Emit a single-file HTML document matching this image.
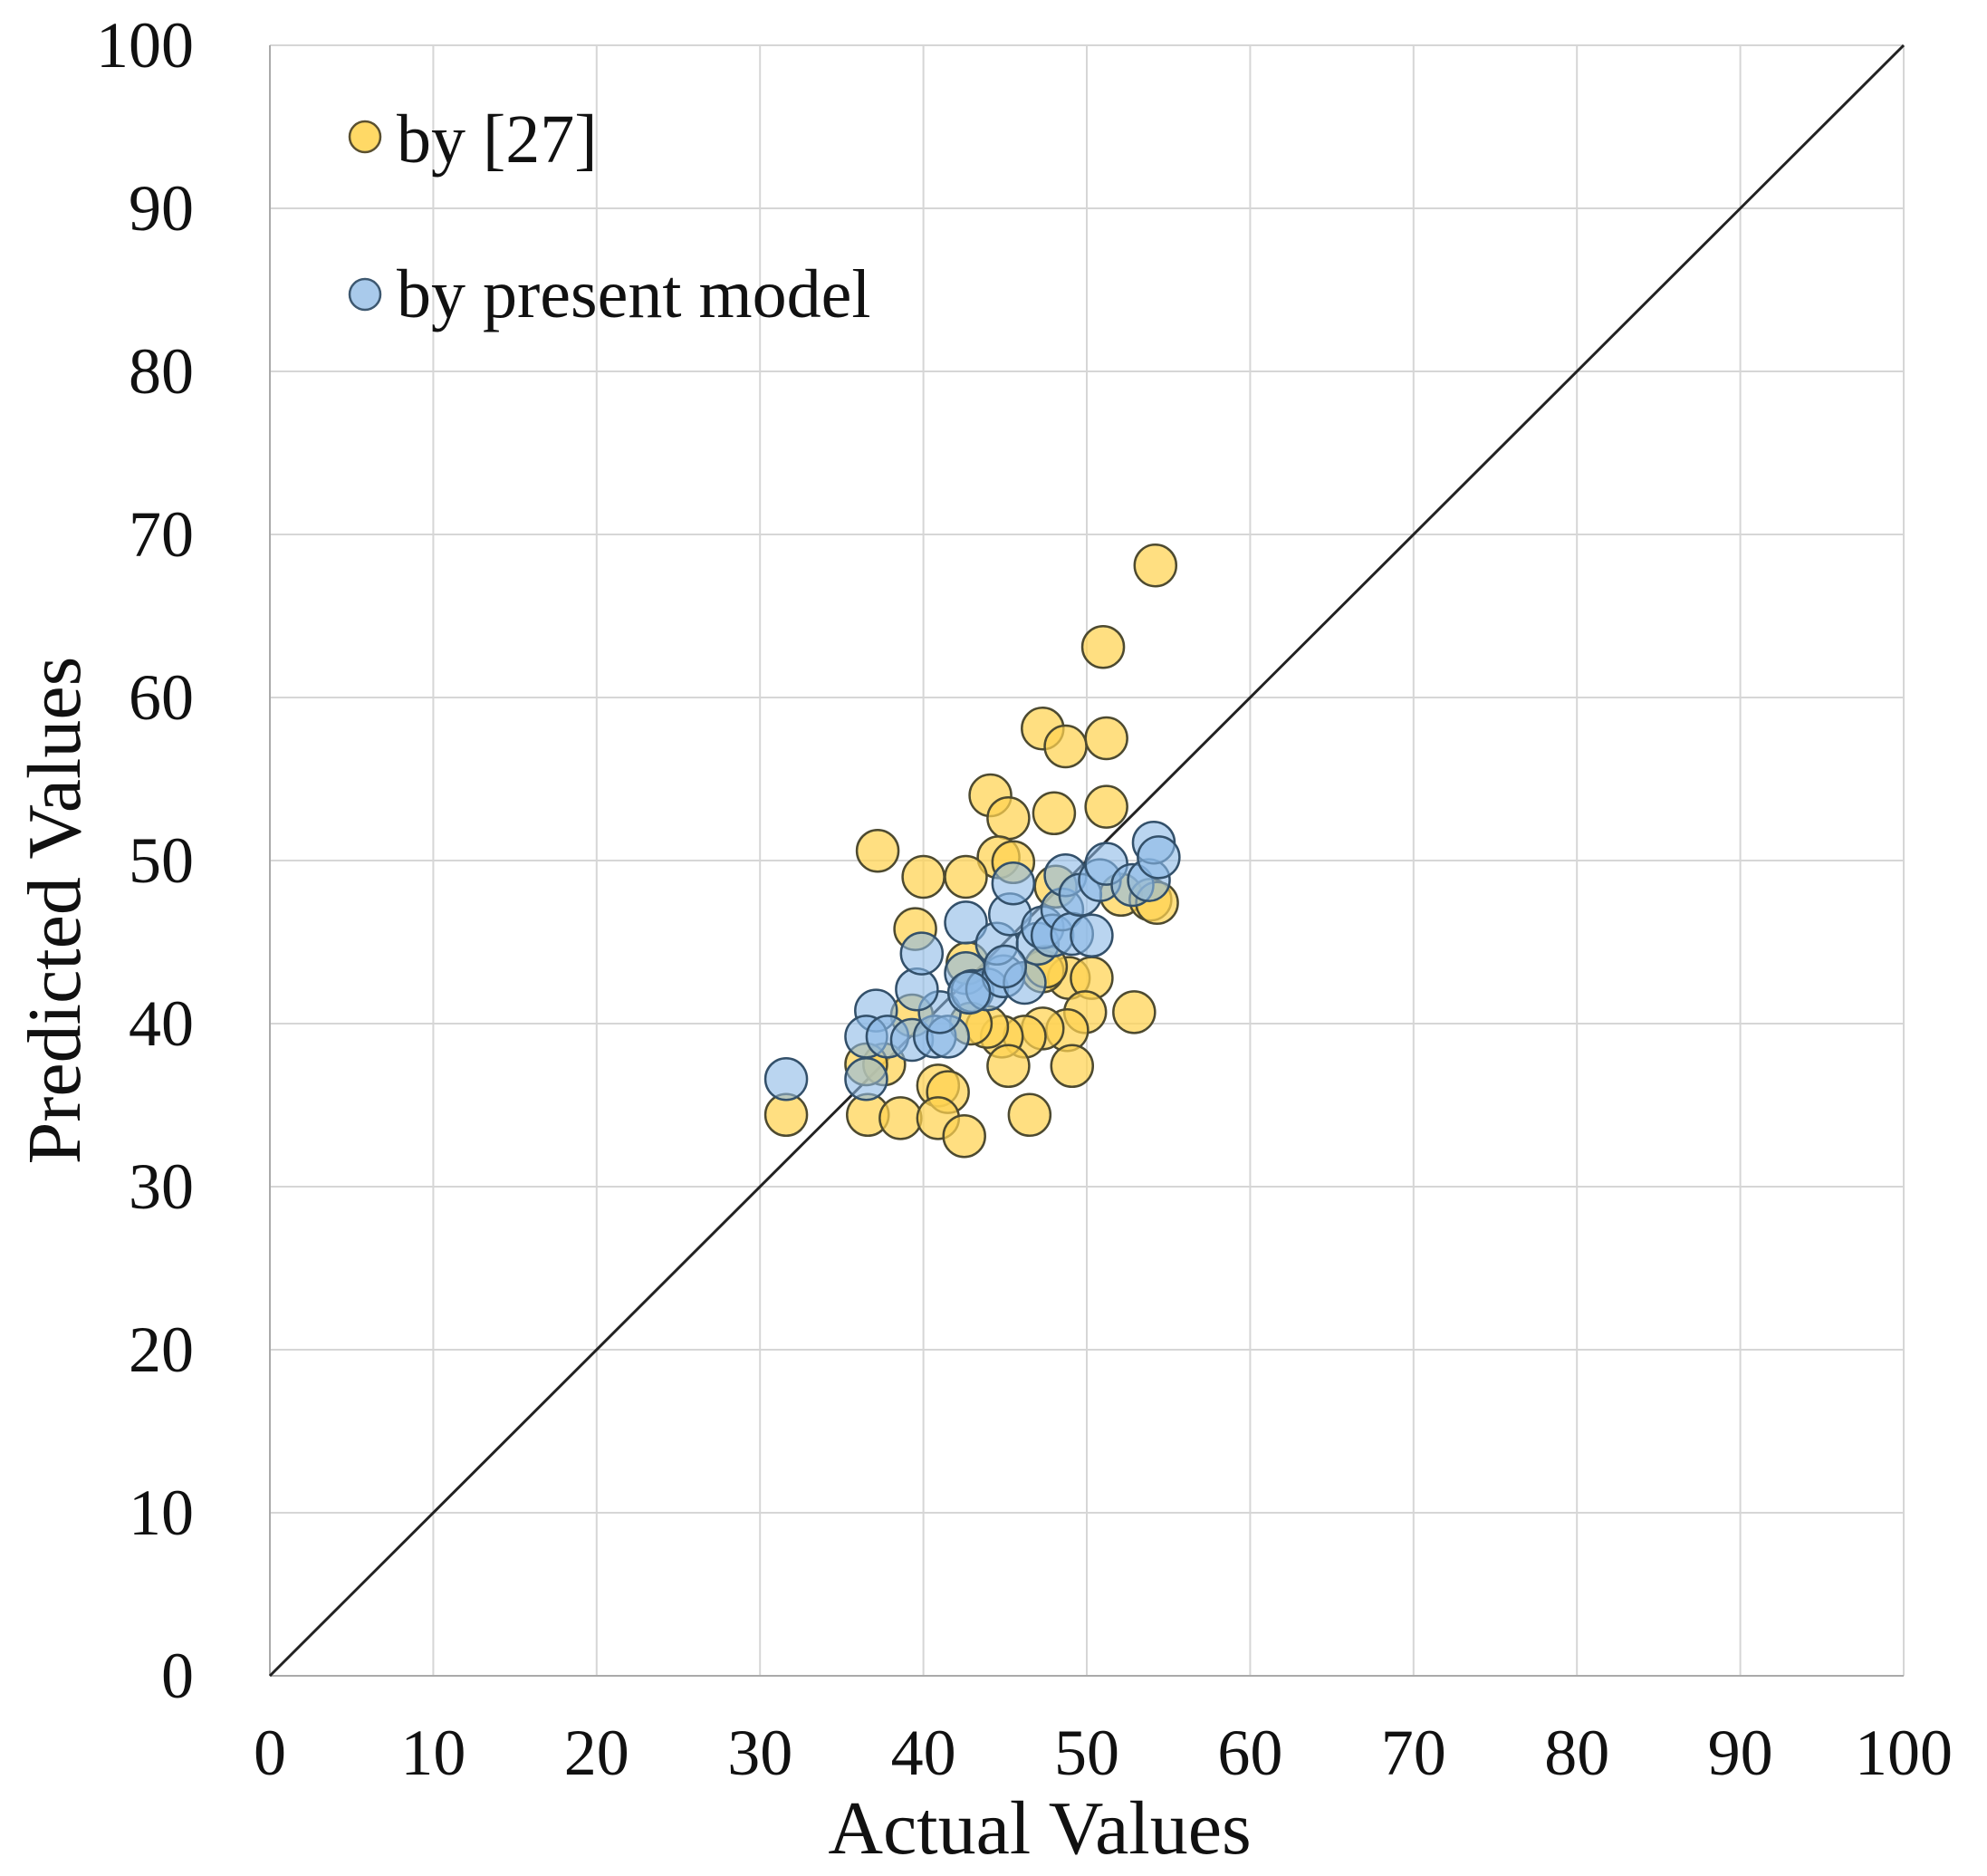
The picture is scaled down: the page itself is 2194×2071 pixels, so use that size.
<!DOCTYPE html>
<html><head><meta charset="utf-8"><style>
html,body{margin:0;padding:0;background:#fff;}
svg{display:block;font-family:"Liberation Serif",serif;}
</style></head><body>
<svg id="chart" width="2194" height="2071" viewBox="0 0 2194 2071" xmlns="http://www.w3.org/2000/svg">
<g id="grid"></g>
<g id="axes"></g>
<g id="marks"></g>
<text x="1148" y="2046" font-size="84" text-anchor="middle" fill="#111">Actual Values</text>
<text transform="translate(88,1005) rotate(-90)" font-size="84" text-anchor="middle" fill="#111">Predicted Values</text>
<g>
<circle cx="403" cy="151" r="17" fill="#FFD966" stroke="#5a5030" stroke-width="2.5"/>
<text x="438" y="179" font-size="76" fill="#111">by [27]</text>
<circle cx="403" cy="325" r="17" fill="#A9CAEB" stroke="#3d5870" stroke-width="2.5"/>
<text x="438" y="350" font-size="76" fill="#111">by present model</text>
</g>
</svg>
<script>
const ticks = [0,10,20,30,40,50,60,70,80,90,100];
const tickLabels = ["0","10","20","30","40","50","60","70","80","90","100"];
const refX = [54.2,51,47.3,51.2,48.7,44.1,45.2,48,51.2,37.2,44.6,45.5,40,42.6,39.5,48.1,52.1,53.9,48.9,50.3,47.3,42.7,52.9,49.9,48.8,47.3,46.2,44.8,43.9,42.9,39.3,37.6,36.5,45.2,49.1,31.6,36.6,38.6,40.9,41.5,40.9,42.5,46.5,54.3,47.5];
const refY = [68.1,63.1,58.1,57.5,57,54,52.6,52.9,53.3,50.6,50.2,49.9,49,49,45.8,48.4,47.9,47.6,42.8,42.8,43.2,43.7,40.7,40.7,39.6,39.7,39.2,39.2,39.8,40,40.5,37.5,37.5,37.4,37.4,34.4,34.4,34.2,36.2,35.8,34.2,33.1,34.4,47.4,43.5];
const modelX = [31.6,36.5,37.1,36.5,37.8,39.3,40.7,41.5,41,39.6,39.9,42.6,42.6,43,43.9,44.9,44.5,45.3,45.5,46.2,47,47.3,47.9,48.5,48.7,49.1,49.6,50.3,50.8,51.2,52.8,53.8,54.1,54.4,42.8,45];
const modelY = [36.6,36.6,40.8,39.2,39.2,39,39.2,39.2,40.7,42.1,44.3,46.2,43.1,42,42.1,42.9,44.9,46.7,48.6,42.5,44.9,45.9,45.4,47,49.1,45.5,47.9,45.4,48.8,49.8,48.5,48.8,51.1,50.2,41.9,43.5];

const X0=298,X1=2102,Y0=1850,Y1=50;
const sx=v=>X0+(X1-X0)*v/100;
const sy=v=>Y0-(Y0-Y1)*v/100;
const NS="http://www.w3.org/2000/svg";
function mk(tag,attrs,parent){const e=document.createElementNS(NS,tag);for(const k in attrs)e.setAttribute(k,attrs[k]);parent.appendChild(e);return e;}
const grid=document.getElementById('grid'),axes=document.getElementById('axes'),marks=document.getElementById('marks');
ticks.forEach((t,i)=>{
  const v=mk('line',{x1:sx(t),x2:sx(t),y1:Y1,y2:Y0,stroke:'#d6d6d6','stroke-width':2},grid);
  
  
  const h=mk('line',{x1:X0,x2:X1,y1:sy(t),y2:sy(t),stroke:'#d6d6d6','stroke-width':2},grid);
  
  
  const xl=mk('text',{x:sx(t),y:1959,'font-size':72,'text-anchor':'middle',fill:'#111'},axes);
  xl.textContent=tickLabels[i];
  
  
  const yl=mk('text',{x:214,y:sy(t)+24,'font-size':72,'text-anchor':'end',fill:'#111'},axes);
  yl.textContent=tickLabels[i];
  
  
});
const ya=mk('line',{x1:X0,x2:X0,y1:Y1,y2:Y0,stroke:'#aaa','stroke-width':2},axes);


const xa=mk('line',{x1:X0,x2:X1,y1:Y0,y2:Y0,stroke:'#aaa','stroke-width':2},axes);


const diag=mk('line',{x1:sx(0),y1:sy(0),x2:sx(100),y2:sy(100),stroke:'#222','stroke-width':3},marks);


refX.forEach((x,i)=>{
  const c=mk('circle',{cx:sx(x),cy:sy(refY[i]),r:23,fill:'rgba(255,210,80,0.72)',stroke:'#4d4a30','stroke-width':2.5},marks);
  
  
});
modelX.forEach((x,i)=>{
  const c=mk('circle',{cx:sx(x),cy:sy(modelY[i]),r:23,fill:'rgba(140,185,230,0.6)',stroke:'#33506a','stroke-width':2.5},marks);
  
  
});
</script>
</body></html>
